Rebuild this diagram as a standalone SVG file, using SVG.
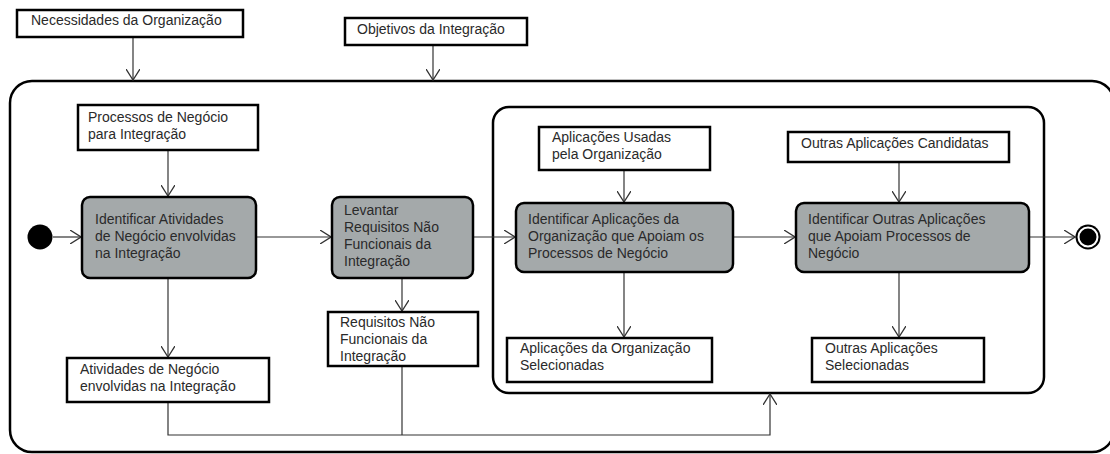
<svg xmlns="http://www.w3.org/2000/svg" width="1110" height="454" viewBox="0 0 1110 454">
  <style>
    text { font-family: "Liberation Sans", Arial, sans-serif; font-size: 14px; fill: #2a2a2a; }
    .obj { fill: #fff; stroke: #000; stroke-width: 2.5; }
    .act { fill: #a4a9aa; stroke: #000; stroke-width: 2.5; }
    .region { fill: none; stroke: #000; stroke-width: 2.5; }
    .flow { fill: none; stroke: #333; stroke-width: 1.2; }
  </style>
  <defs>
    <marker id="open" viewBox="0 0 12 14" refX="11" refY="7" markerWidth="12" markerHeight="14" markerUnits="userSpaceOnUse" orient="auto">
      <path d="M0,0 L11,7 L0,14" fill="none" stroke="#333" stroke-width="1.3"/>
    </marker>
  </defs>

  <rect width="1110" height="454" fill="#fff"/>

  <!-- outer activity region -->
  <rect id="outer-region" class="region" x="10" y="81" width="1104" height="371" rx="22"/>
  <!-- inner application region -->
  <rect id="inner-region" class="region" x="493" y="107" width="551" height="286" rx="16"/>

  <!-- connectors -->
  <g id="connectors">
    <line class="flow" x1="133" y1="37" x2="133" y2="80" marker-end="url(#open)"/>
    <line class="flow" x1="433" y1="45" x2="433" y2="80" marker-end="url(#open)"/>
    <line class="flow" x1="168" y1="150" x2="168" y2="196" marker-end="url(#open)"/>
    <line class="flow" x1="53" y1="237" x2="81" y2="237" marker-end="url(#open)"/>
    <line class="flow" x1="256" y1="237" x2="331" y2="237" marker-end="url(#open)"/>
    <line class="flow" x1="473" y1="237" x2="515" y2="237" marker-end="url(#open)"/>
    <line class="flow" x1="733" y1="237" x2="795" y2="237" marker-end="url(#open)"/>
    <line class="flow" x1="1029" y1="237" x2="1075" y2="237" marker-end="url(#open)"/>
    <line class="flow" x1="168" y1="278" x2="168" y2="357" marker-end="url(#open)"/>
    <line class="flow" x1="402" y1="278" x2="402" y2="311" marker-end="url(#open)"/>
    <line class="flow" x1="624" y1="170" x2="624" y2="202" marker-end="url(#open)"/>
    <line class="flow" x1="899" y1="162" x2="899" y2="202" marker-end="url(#open)"/>
    <line class="flow" x1="624" y1="272" x2="624" y2="337" marker-end="url(#open)"/>
    <line class="flow" x1="899" y1="272" x2="899" y2="337" marker-end="url(#open)"/>
    <polyline class="flow" points="168,402 168,435 770,435 770,394" marker-end="url(#open)"/>
    <line class="flow" x1="402" y1="366" x2="402" y2="435"/>
  </g>

  <!-- initial node -->
  <g id="initial">
    <circle cx="40" cy="237" r="12.5" fill="#000"/>
  </g>

  <!-- final node -->
  <g id="final">
    <circle cx="1088" cy="237" r="12.5" fill="#000"/>
    <circle cx="1088" cy="237" r="9.5" fill="#000" stroke="#fff" stroke-width="2"/>
  </g>

  <g id="necessidades">
    <rect class="obj" x="17" y="10" width="226" height="27"/>
    <text x="31" y="25">Necessidades da Organização</text>
  </g>

  <g id="objetivos">
    <rect class="obj" x="345" y="18" width="182" height="27"/>
    <text x="357" y="34">Objetivos da Integração</text>
  </g>

  <g id="processos">
    <rect class="obj" x="78" y="105" width="180" height="45"/>
    <text x="88" y="122">Processos de Negócio</text>
    <text x="88" y="139">para Integração</text>
  </g>

  <g id="identificar-atividades">
    <rect class="act" x="82" y="197" width="174" height="81" rx="8"/>
    <text x="95" y="224">Identificar Atividades</text>
    <text x="95" y="241">de Negócio envolvidas</text>
    <text x="95" y="258">na Integração</text>
  </g>

  <g id="atividades-envolvidas">
    <rect class="obj" x="67" y="358" width="202" height="44"/>
    <text x="80" y="374">Atividades de Negócio</text>
    <text x="80" y="391">envolvidas na Integração</text>
  </g>

  <g id="levantar-requisitos">
    <rect class="act" x="332" y="197" width="141" height="81" rx="8"/>
    <text x="344" y="215">Levantar</text>
    <text x="344" y="232">Requisitos Não</text>
    <text x="344" y="249">Funcionais da</text>
    <text x="344" y="266">Integração</text>
  </g>

  <g id="requisitos-nf">
    <rect class="obj" x="328" y="312" width="150" height="54"/>
    <text x="340" y="327">Requisitos Não</text>
    <text x="340" y="344">Funcionais da</text>
    <text x="340" y="361">Integração</text>
  </g>

  <g id="aplicacoes-usadas">
    <rect class="obj" x="539" y="127" width="171" height="43"/>
    <text x="552" y="142">Aplicações Usadas</text>
    <text x="552" y="159">pela Organização</text>
  </g>

  <g id="identificar-aplicacoes">
    <rect class="act" x="516" y="203" width="217" height="69" rx="8"/>
    <text x="528" y="224">Identificar Aplicações da</text>
    <text x="528" y="241">Organização que Apoiam os</text>
    <text x="528" y="258">Processos de Negócio</text>
  </g>

  <g id="aplicacoes-selecionadas">
    <rect class="obj" x="507" y="338" width="205" height="44"/>
    <text x="520" y="353">Aplicações da Organização</text>
    <text x="520" y="370">Selecionadas</text>
  </g>

  <g id="outras-candidatas">
    <rect class="obj" x="788" y="132" width="221" height="30"/>
    <text x="801" y="148">Outras Aplicações Candidatas</text>
  </g>

  <g id="identificar-outras">
    <rect class="act" x="796" y="203" width="233" height="69" rx="8"/>
    <text x="808" y="224">Identificar Outras Aplicações</text>
    <text x="808" y="241">que Apoiam Processos de</text>
    <text x="808" y="258">Negócio</text>
  </g>

  <g id="outras-selecionadas">
    <rect class="obj" x="812" y="338" width="172" height="44"/>
    <text x="825" y="353">Outras Aplicações</text>
    <text x="825" y="370">Selecionadas</text>
  </g>
</svg>
